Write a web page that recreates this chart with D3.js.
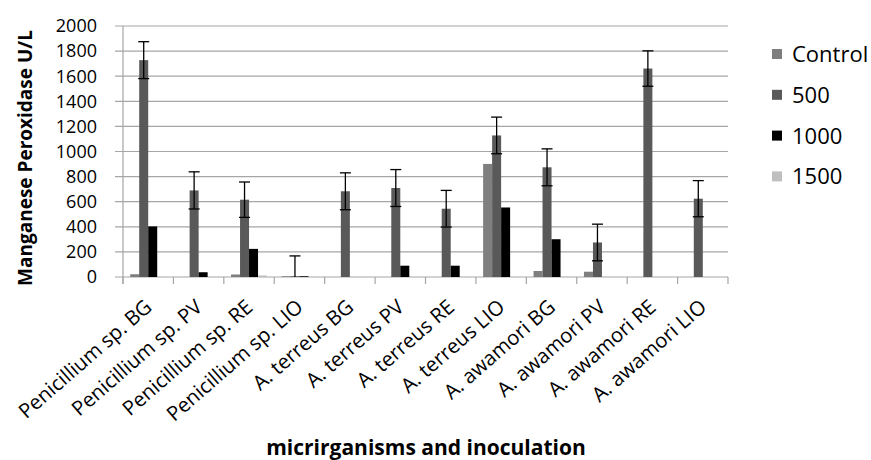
<!DOCTYPE html>
<html>
<head>
<meta charset="utf-8">
<script src="https://cdn.jsdelivr.net/npm/d3@7"></script>
<style>
  body { margin: 0; background: #fff; }
  text { font-family: "Open Sans", sans-serif; }
</style>
</head>
<body>
<div id="chart"></div>
<script>
// categories along the x axis
const categories = [
    "Penicillium sp. BG", "Penicillium sp. PV", "Penicillium sp. RE", "Penicillium sp. LIO",
    "A. terreus BG", "A. terreus PV", "A. terreus RE", "A. terreus LIO",
    "A. awamori BG", "A. awamori PV", "A. awamori RE", "A. awamori LIO"
];
const seriesNames = ["Control", "500", "1000", "1500"];
const seriesColors = ["#7f7f7f", "#595959", "#000000", "#bfbfbf"];

// values
const control = [22, 0, 20, 6, 0, 0, 0, 901, 48, 42, 0, 0];
const dose500 = [1728, 690, 616, 6, 683, 709, 544, 1128, 874, 275, 1661, 624];
const dose1000 = [403, 38, 224, 6, 0, 90, 90, 554, 301, 0, 0, 0];
const dose1500 = [0, 0, 12, 0, 0, 0, 0, 0, 0, 0, 0, 0];
const error500 = [147, 148, 141, 162, 147, 147, 146, 146, 147, 146, 141, 144];
const yTicks = [0, 200, 400, 600, 800, 1000, 1200, 1400, 1600, 1800, 2000];

const seriesValues = [control, dose500, dose1000, dose1500];

const width = 871, height = 460;
const margin = { top: 26, right: 143, bottom: 183, left: 123 };
const plotW = width - margin.left - margin.right,
    plotH = height - margin.top - margin.bottom;

const svg = d3.select("#chart")
    .append("svg")
    .attr("width", width)
    .attr("height", height);

const plot = svg.append("g")
    .attr("transform", `translate(${margin.left}, ${margin.top})`);

const x0 = d3.scaleBand()
    .domain(categories)
    .range([0, plotW]);

const x1 = d3.scaleBand()
    .domain(seriesNames)
    .range([0, x0.bandwidth()])
    .paddingOuter(0.8);

const y = d3.scaleLinear()
    .domain([0, 2000])
    .range([plotH, 0]);

// gridlines (with small ticks to the left of the axis)
plot.append("g")
    .selectAll("line")
    .data(yTicks)
    .join("line")
    .attr("x1", -8)
    .attr("x2", plotW)
    .attr("y1", d => y(d))
    .attr("y2", d => y(d))
    .attr("stroke", "#a6a6a6")
    .attr("stroke-width", 1.2);

// Y axis labels
plot.append("g")
    .selectAll("text")
    .data(yTicks)
    .join("text")
    .attr("x", -26)
    .attr("y", d => y(d))
    .attr("dy", "0.35em")
    .attr("text-anchor", "end")
    .attr("font-size", 18)
    .attr("fill", "#000")
    .text(d => d);

// left axis line
plot.append("line")
    .attr("x1", 0).attr("x2", 0)
    .attr("y1", 0).attr("y2", plotH + 7)
    .attr("stroke", "#a6a6a6")
    .attr("stroke-width", 1.2);

// bottom tick marks between groups
plot.append("g")
    .selectAll("line")
    .data(categories.concat(["end"]))
    .join("line")
    .attr("x1", (d, i) => i * x0.step())
    .attr("x2", (d, i) => i * x0.step())
    .attr("y1", plotH)
    .attr("y2", plotH + 7)
    .attr("stroke", "#a6a6a6")
    .attr("stroke-width", 1.2);

// bars
const groups = plot.append("g")
    .selectAll("g")
    .data(categories)
    .join("g")
    .attr("transform", d => `translate(${x0(d)}, 0)`);

groups.selectAll("rect")
    .data((d, i) => seriesNames.map((s, j) => ({ s, v: seriesValues[j][i], c: seriesColors[j] })))
    .join("rect")
    .attr("x", d => x1(d.s))
    .attr("y", d => y(d.v))
    .attr("width", x1.bandwidth())
    .attr("height", d => plotH - y(d.v))
    .attr("fill", d => d.c);

// error bars on the 500 series
const errG = plot.append("g")
    .selectAll("g")
    .data(categories.map((c, i) => ({ c, v: dose500[i], e: error500[i] })))
    .join("g")
    .attr("transform", d => `translate(${x0(d.c) + x1("500") + x1.bandwidth() / 2}, 0)`)
    .attr("stroke", "#000")
    .attr("stroke-width", 1.3);

errG.append("line")
    .attr("y1", d => y(d.v + d.e))
    .attr("y2", d => y(Math.max(0, d.v - d.e)));
errG.append("line")
    .attr("x1", -5.5).attr("x2", 5.5)
    .attr("y1", d => y(d.v + d.e))
    .attr("y2", d => y(d.v + d.e));
errG.filter(d => d.v - d.e > 0).append("line")
    .attr("x1", -5.5).attr("x2", 5.5)
    .attr("y1", d => y(d.v - d.e))
    .attr("y2", d => y(d.v - d.e));

// category labels
plot.append("g")
    .selectAll("text")
    .data(categories)
    .join("text")
    .attr("transform", d => `translate(${x0(d) + x0.bandwidth() / 2 + 5}, ${plotH + 32}) rotate(-41)`)
    .attr("text-anchor", "end")
    .attr("font-size", 20.3)
    .attr("fill", "#000")
    .text(d => d);

// axis titles
svg.append("text")
    .attr("transform", `translate(32, 158) rotate(-90)`)
    .attr("text-anchor", "middle")
    .attr("font-size", 19)
    .attr("font-weight", "bold")
    .text("Manganese Peroxidase U/L");

svg.append("text")
    .attr("x", 426)
    .attr("y", 455)
    .attr("text-anchor", "middle")
    .attr("font-size", 21)
    .attr("font-weight", "bold")
    .text("micrirganisms and inoculation");

// legend
const legend = svg.append("g")
    .selectAll("g")
    .data(seriesNames)
    .join("g")
    .attr("transform", (d, i) => `translate(772, ${54 + i * 40.8})`);

legend.append("rect")
    .attr("x", 0).attr("y", -5)
    .attr("width", 10).attr("height", 10)
    .attr("fill", (d, i) => seriesColors[i]);

legend.append("text")
    .attr("x", 20)
    .attr("dy", "0.36em")
    .attr("font-size", 22)
    .text(d => d);
</script>
</body>
</html>
